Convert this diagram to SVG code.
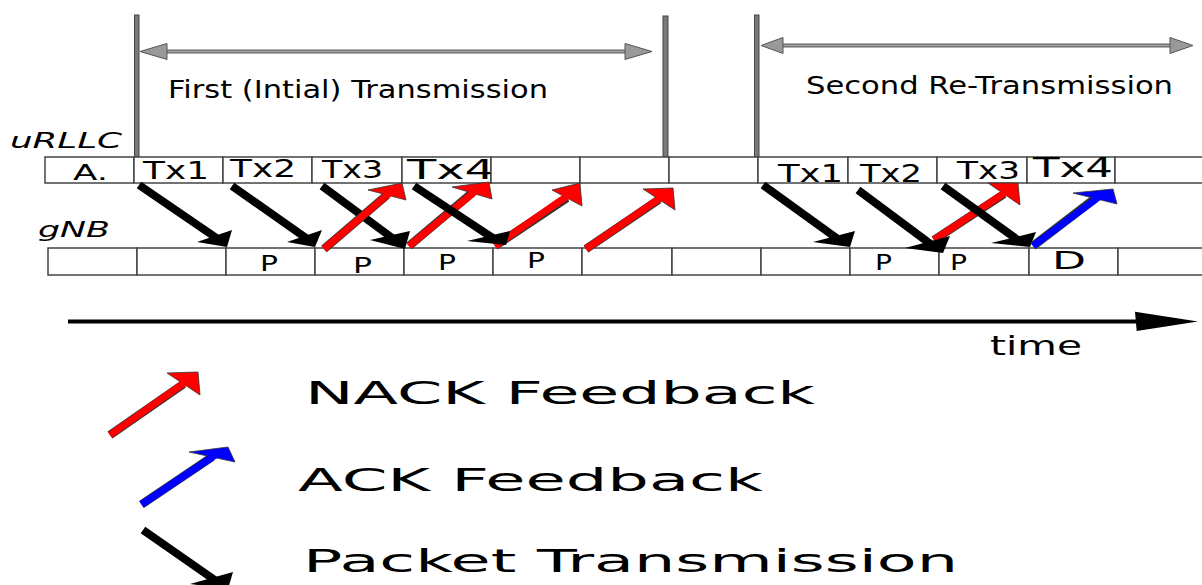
<svg xmlns="http://www.w3.org/2000/svg" width="1202" height="585" viewBox="0 0 1202 585">
  <style>
    .cell { fill: #fff; stroke: #444; stroke-width: 1.5; }
    .lbl { font-family: "DejaVu Sans", "Verdana", sans-serif; fill: #000; }
    .it { font-style: italic; }
    .bar { fill: #7a7a7a; stroke: #444; stroke-width: 1; }
    .span-edge { stroke: #666; stroke-width: 4; }
    .span-core { stroke: #a8a8a8; stroke-width: 1.6; }
    .span-head { fill: #999; stroke: #555; stroke-width: 1; }
    .pk { stroke: #000; stroke-width: 8; }
    .pk-head { fill: #000; }
    .fb-edge { stroke: #333; stroke-width: 8.6; }
    .nack { stroke: #f00; stroke-width: 7; }
    .nack-head { fill: #f00; stroke: #333; stroke-width: 0.8; }
    .ack { stroke: #00f; stroke-width: 7; }
    .ack-head { fill: #00f; stroke: #333; stroke-width: 0.8; }
  </style>

  <rect width="1202" height="585" fill="#fff"/>

  <!-- phase brackets -->
  <g id="phase-first">
    <line class="span-edge" x1="166" y1="51.5" x2="626" y2="51.5"/>
    <line class="span-core" x1="166" y1="51.5" x2="626" y2="51.5"/>
    <polygon class="span-head" points="140,51.5 167,43.5 167,59.5"/>
    <polygon class="span-head" points="652,51.5 625,43.5 625,59.5"/>
    <text class="lbl" x="168" y="98" font-size="24" textLength="380" lengthAdjust="spacingAndGlyphs">First (Intial) Transmission</text>
  </g>
  <g id="phase-second">
    <line class="span-edge" x1="782" y1="45.5" x2="1171" y2="45.5"/>
    <line class="span-core" x1="782" y1="45.5" x2="1171" y2="45.5"/>
    <polygon class="span-head" points="761,45.5 783,37.5 783,53.5"/>
    <polygon class="span-head" points="1193,45.5 1170,37.5 1170,53.5"/>
    <text class="lbl" x="806" y="94" font-size="24" textLength="367" lengthAdjust="spacingAndGlyphs">Second Re-Transmission</text>
  </g>

  <!-- phase boundary bars -->
  <g id="bars">
    <rect class="bar" x="134.5" y="15" width="4.5" height="142"/>
    <rect class="bar" x="663" y="16" width="5" height="141"/>
    <rect class="bar" x="754.5" y="15" width="4.5" height="142"/>
  </g>

  <!-- row labels -->
  <text id="label-urllc" class="lbl it" x="10" y="148" font-size="22" textLength="112" lengthAdjust="spacingAndGlyphs">uRLLC</text>
  <text id="label-gnb" class="lbl it" x="38" y="237" font-size="21" textLength="72" lengthAdjust="spacingAndGlyphs">gNB</text>

  <!-- uRLLC slots -->
  <g id="urllc-row">
    <g id="u0"><rect class="cell" x="45" y="157" width="89" height="26"/>
      <text class="lbl" x="73" y="180" font-size="21" textLength="35" lengthAdjust="spacingAndGlyphs">A.</text></g>
    <g id="u1"><rect class="cell" x="134" y="157" width="89" height="26"/>
      <text class="lbl" x="143" y="179" font-size="24" textLength="66" lengthAdjust="spacingAndGlyphs">Tx1</text></g>
    <g id="u2"><rect class="cell" x="223" y="157" width="89" height="26"/>
      <text class="lbl" x="230" y="177" font-size="24" textLength="66" lengthAdjust="spacingAndGlyphs">Tx2</text></g>
    <g id="u3"><rect class="cell" x="312" y="157" width="90" height="26"/>
      <text class="lbl" x="322" y="178" font-size="24" textLength="61" lengthAdjust="spacingAndGlyphs">Tx3</text></g>
    <g id="u4"><rect class="cell" x="402" y="157" width="89" height="26"/>
      <text class="lbl" x="407" y="179" font-size="26" textLength="88" lengthAdjust="spacingAndGlyphs">Tx4</text></g>
    <g id="u5"><rect class="cell" x="491" y="157" width="89" height="26"/></g>
    <g id="u6"><rect class="cell" x="580" y="157" width="89" height="26"/></g>
    <g id="u7"><rect class="cell" x="669" y="157" width="89" height="26"/></g>
    <g id="u8"><rect class="cell" x="758" y="157" width="90" height="26"/>
      <text class="lbl" x="778" y="182" font-size="24" textLength="65" lengthAdjust="spacingAndGlyphs">Tx1</text></g>
    <g id="u9"><rect class="cell" x="848" y="157" width="89" height="26"/>
      <text class="lbl" x="860" y="182" font-size="24" textLength="62" lengthAdjust="spacingAndGlyphs">Tx2</text></g>
    <g id="u10"><rect class="cell" x="937" y="157" width="90" height="26"/>
      <text class="lbl" x="957" y="179" font-size="24" textLength="63" lengthAdjust="spacingAndGlyphs">Tx3</text></g>
    <g id="u11"><rect class="cell" x="1027" y="157" width="88" height="26"/>
      <text class="lbl" x="1033" y="177" font-size="26" textLength="80" lengthAdjust="spacingAndGlyphs">Tx4</text></g>
    <g id="u12"><rect class="cell" x="1115" y="157" width="100" height="26"/></g>
  </g>

  <!-- gNB slots -->
  <g id="gnb-row">
    <g id="g0"><rect class="cell" x="48" y="248" width="89" height="27"/></g>
    <g id="g1"><rect class="cell" x="137" y="248" width="89" height="27"/></g>
    <g id="g2"><rect class="cell" x="226" y="248" width="89" height="27"/>
      <text class="lbl" x="260" y="271" font-size="22" textLength="18" lengthAdjust="spacingAndGlyphs">P</text></g>
    <g id="g3"><rect class="cell" x="315" y="248" width="89" height="27"/>
      <text class="lbl" x="353" y="273" font-size="22" textLength="19" lengthAdjust="spacingAndGlyphs">P</text></g>
    <g id="g4"><rect class="cell" x="404" y="248" width="89" height="27"/>
      <text class="lbl" x="438" y="270" font-size="22" textLength="18" lengthAdjust="spacingAndGlyphs">P</text></g>
    <g id="g5"><rect class="cell" x="493" y="248" width="89" height="27"/>
      <text class="lbl" x="527" y="268" font-size="22" textLength="18" lengthAdjust="spacingAndGlyphs">P</text></g>
    <g id="g6"><rect class="cell" x="582" y="248" width="90" height="27"/></g>
    <g id="g7"><rect class="cell" x="672" y="248" width="89" height="27"/></g>
    <g id="g8"><rect class="cell" x="761" y="248" width="89" height="27"/></g>
    <g id="g9"><rect class="cell" x="850" y="248" width="89" height="27"/>
      <text class="lbl" x="875" y="270" font-size="22" textLength="17" lengthAdjust="spacingAndGlyphs">P</text></g>
    <g id="g10"><rect class="cell" x="939" y="248" width="90" height="27"/>
      <text class="lbl" x="950" y="270" font-size="22" textLength="17" lengthAdjust="spacingAndGlyphs">P</text></g>
    <g id="g11"><rect class="cell" x="1029" y="248" width="89" height="27"/>
      <text class="lbl" x="1052" y="269" font-size="24" textLength="34" lengthAdjust="spacingAndGlyphs">D</text></g>
    <g id="g12"><rect class="cell" x="1118" y="248" width="100" height="27"/></g>
  </g>

  <!-- transmissions and feedback -->
  <g id="connectors">
    <!-- packet transmissions, first phase -->
    <line class="pk" x1="139" y1="185" x2="218.3" y2="239.3"/>
    <polygon class="pk-head" points="197,242 227,247 232,230"/>
    <line class="pk" x1="232" y1="186" x2="307.8" y2="239.3"/>
    <polygon class="pk-head" points="287,242 315,247 322,230"/>
    <line class="pk" x1="322" y1="186" x2="394.5" y2="239.6"/>
    <polygon class="pk-head" points="370,240 405,249 410,231"/>

    <!-- NACK 1 -->
    <line class="fb-edge" x1="324" y1="249" x2="387" y2="195"/>
    <polygon class="nack-head" points="368,190 402,183 406,200"/>
    <line class="nack" x1="324" y1="249" x2="391.5" y2="191.4"/>
    <!-- NACK 2 -->
    <line class="fb-edge" x1="409" y1="246" x2="472" y2="193"/>
    <polygon class="nack-head" points="452,187 489,182 492,199"/>
    <line class="nack" x1="409" y1="246" x2="477.1" y2="189.7"/>
    <!-- NACK 3 -->
    <line class="fb-edge" x1="495" y1="246" x2="567" y2="198"/>
    <polygon class="nack-head" points="552,190 580,183 582,206"/>
    <line class="nack" x1="495" y1="246" x2="570.9" y2="193.5"/>

    <line class="pk" x1="414" y1="186" x2="493.8" y2="238.7"/>
    <polygon class="pk-head" points="467,241 506,245 510,231"/>

    <!-- NACK 4 -->
    <line class="fb-edge" x1="586" y1="249" x2="659" y2="199.5"/>
    <polygon class="nack-head" points="643,189 673,188 675,210"/>
    <line class="nack" x1="586" y1="249" x2="663.2" y2="196"/>

    <!-- second phase -->
    <line class="pk" x1="763" y1="185" x2="838.8" y2="239.7"/>
    <polygon class="pk-head" points="813,242 850,247 855,231"/>

    <!-- NACK 5 -->
    <line class="fb-edge" x1="934" y1="240" x2="1004" y2="194"/>
    <polygon class="nack-head" points="988,183 1018,183 1020,205"/>
    <line class="nack" x1="934" y1="240" x2="1008.2" y2="190.7"/>

    <line class="pk" x1="858" y1="190" x2="932.2" y2="245.3"/>
    <polygon class="pk-head" points="905,248 943,253 950,236"/>
    <line class="pk" x1="943" y1="186" x2="1018.5" y2="240.4"/>
    <polygon class="pk-head" points="991,243 1030,247 1036,232"/>

    <!-- ACK -->
    <line class="fb-edge" x1="1033" y1="246" x2="1095" y2="198.5"/>
    <polygon class="ack-head" points="1073,193 1113,189 1117,204"/>
    <line class="ack" x1="1033" y1="246" x2="1100.4" y2="195.7"/>
  </g>

  <!-- time axis -->
  <g id="time-axis">
    <line x1="68" y1="321.5" x2="1137" y2="321.5" stroke="#000" stroke-width="4"/>
    <polygon points="1135,311.7 1198,321.5 1136.7,331" fill="#000"/>
    <text class="lbl" x="990" y="355" font-size="27" textLength="92" lengthAdjust="spacingAndGlyphs">time</text>
  </g>

  <!-- legend -->
  <g id="legend-nack">
    <line class="fb-edge" x1="110" y1="435" x2="183.5" y2="384"/>
    <polygon class="nack-head" points="167,373 198,372 200,395"/>
    <line class="nack" x1="110" y1="435" x2="187.9" y2="380.4"/>
    <text class="lbl" x="305" y="404" font-size="32" textLength="510" lengthAdjust="spacingAndGlyphs">NACK Feedback</text>
  </g>
  <g id="legend-ack">
    <line class="fb-edge" x1="141.5" y1="504.5" x2="212" y2="457"/>
    <polygon class="ack-head" points="189,452 228,447 235,462"/>
    <line class="ack" x1="141.5" y1="504.5" x2="216.8" y2="454"/>
    <text class="lbl" x="298" y="491" font-size="32" textLength="465" lengthAdjust="spacingAndGlyphs">ACK Feedback</text>
  </g>
  <g id="legend-packet">
    <line class="pk" x1="143" y1="530" x2="216.5" y2="581.3"/>
    <polygon class="pk-head" points="190,584 228,589 233,572"/>
    <text class="lbl" x="303" y="572" font-size="32" textLength="655" lengthAdjust="spacingAndGlyphs">Packet Transmission</text>
  </g>
</svg>
